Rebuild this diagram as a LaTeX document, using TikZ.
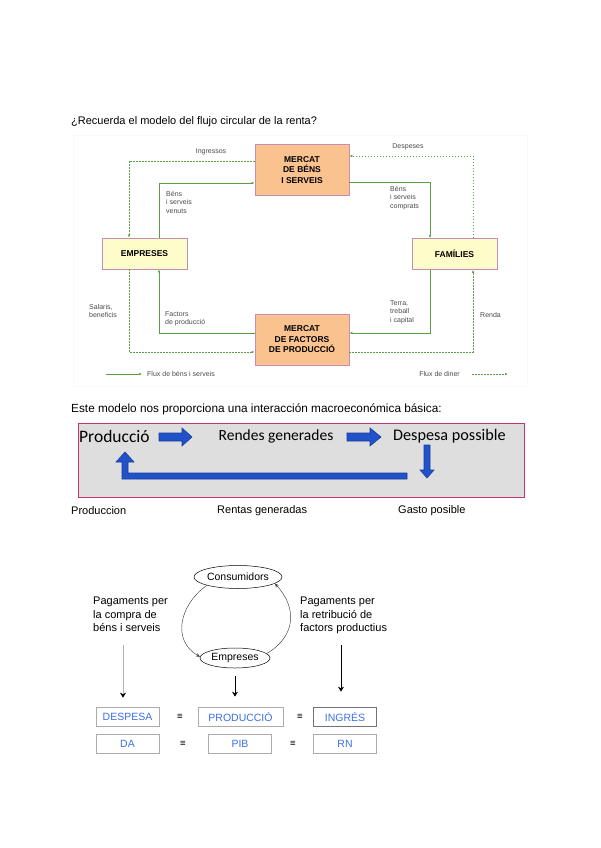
\documentclass[tikz,border=0pt]{standalone}
\usepackage{fontspec}
\setmainfont{Liberation Sans}
\newfontfamily\calibri{Carlito}
\usetikzlibrary{arrows.meta,shapes.geometric,positioning}
\definecolor{boxedge}{HTML}{C68DB5}
\definecolor{mercatfill}{HTML}{F9C28F}
\definecolor{empfill}{HTML}{FEFCC8}
\definecolor{flowgreen}{HTML}{5A9E46}
\definecolor{labelgray}{HTML}{4A4A4A}
\definecolor{framered}{HTML}{C8336E}
\definecolor{panelgray}{HTML}{DEDEDE}
\definecolor{arrowblue}{HTML}{2152C9}
\definecolor{arrowedge}{HTML}{173E9A}
\definecolor{valblue}{HTML}{3A6FE6}

\tikzset{
  mbox/.style={draw=boxedge,line width=0.8pt,fill=mercatfill,minimum width=94pt,
    minimum height=51pt,align=center,inner sep=0pt,
    font=\fontsize{8.5}{10.5}\selectfont\bfseries},
  ybox/.style={mbox,fill=empfill,minimum width=85pt,minimum height=31pt},
  goods/.style={draw=flowgreen,line width=0.6pt,-{Latex[length=3pt,width=2.5pt]}},
  money/.style={goods,dash pattern=on 1.5pt off 1.5pt},
  lbl/.style={text=labelgray,align=left,inner sep=0pt,font=\fontsize{7}{8.5}\selectfont},
  legendtxt/.style={lbl,font=\fontsize{7}{8}\selectfont},
  txt/.style={inner sep=0pt,align=left,font=\fontsize{11}{13.5}\selectfont},
  bigarrow/.style={fill=arrowblue,draw=arrowedge,line width=0.6pt},
  ell/.style={ellipse,draw,line width=0.5pt,inner sep=0pt,font=\fontsize{10.5}{12}\selectfont},
  loopline/.style={draw=black!75,line width=0.45pt,-{Stealth[length=4pt,width=3.5pt]}},
  vbox/.style={draw=gray!65,line width=0.7pt,minimum width=63pt,minimum height=19pt,
    inner sep=0pt,text=valblue,font=\fontsize{10.5}{12}\selectfont},
  eqsign/.style={inner sep=0pt,font=\fontsize{9.5}{10}\selectfont},
}

\begin{document}
\begin{tikzpicture}[x=1pt,y=-1pt]
\useasboundingbox (0,0) rectangle (600,848);

% circular flow of income
\node[txt,anchor=west] (titol) at (71,122) {¿Recuerda el modelo del flujo circular de la renta?};
\draw[gray!5] (73,135) rectangle (527,386);

\node[mbox] (mbs) at (302,170) {MERCAT\\DE BÉNS\\I SERVEIS};
\node[ybox] (emp) at (144.5,253.5) {EMPRESES};
\node[ybox] (fam) at (454.5,254) {FAMÍLIES};
\node[mbox] (mfp) at (302,339.5) {MERCAT\\DE FACTORS\\DE PRODUCCIÓ};

\coordinate (c1) at (129,161);
\coordinate (c2) at (159,183);
\coordinate (c3) at (430,182);
\coordinate (c4) at (473,156);
\coordinate (c5) at (430,333);
\coordinate (c6) at (159,333);
\coordinate (c7) at (129,352);
\coordinate (c8) at (473,352);

\draw[money] (mbs.west |- c1) -- (c1) -- (c1 |- emp.north);
\draw[goods] (c2 |- emp.north) -- (c2) -- (mbs.west |- c2);
\draw[goods] (mbs.east |- c3) -- (c3) -- (c3 |- fam.north);
\draw[money] (c4 |- fam.north) -- (c4) -- (mbs.east |- c4);
\draw[goods] (c5 |- fam.south) -- (c5) -- (mfp.east |- c5);
\draw[goods] (mfp.west |- c6) -- (c6) -- (c6 |- emp.south);
\draw[money] (c7 |- emp.south) -- (c7) -- (mfp.west |- c7);
\draw[money] (mfp.east |- c8) -- (c8) -- (c8 |- fam.south);

\node[lbl] (ingressos) at (211,152) {Ingressos};
\node[lbl] (despeses) at (408,147) {Despeses};
\node[lbl,anchor=north west] (venuts) at (166,191) {Béns\\i serveis\\venuts};
\node[lbl,anchor=north west] (comprats) at (390,186) {Béns\\i serveis\\comprats};
\node[lbl,anchor=north west] (terra) at (390,300) {Terra,\\treball\\i capital};
\node[lbl,anchor=north west] (factors) at (165,311) {Factors\\de producció};
\node[lbl,anchor=north west] (salaris) at (89,304) {Salaris,\\beneficis};
\node[lbl,anchor=west] (renda) at (480,315) {Renda};

% legend
\coordinate (g1) at (106,374);
\coordinate (g2) at (142,374);
\draw[goods] (g1) -- (g2);
\node[legendtxt,anchor=west] (fluxb) at (147,374) {Flux de béns i serveis};
\node[legendtxt,anchor=east] (fluxd) at (460,374) {Flux de diner};
\coordinate (d1) at (472,374);
\coordinate (d2) at (508,374);
\draw[money] (d1) -- (d2);

% basic interaction
\node[txt,anchor=west,font=\fontsize{11.8}{14}\selectfont] (este) at (71,409) {Este modelo nos proporciona una interacción macroeconómica básica:};
\draw[draw=framered,fill=panelgray,line width=1pt] (78,423) rectangle (524,497);
\node[inner sep=0pt,anchor=west,font=\calibri\fontsize{17.5}{20}\selectfont] (prod) at (79,436) {Producció};
\node[inner sep=0pt,font=\calibri\fontsize{15.5}{18}\selectfont] (rend) at (276,436) {Rendes generades};
\node[inner sep=0pt,anchor=west,font=\calibri\fontsize{16.2}{19}\selectfont] (desp) at (393,436) {Despesa possible};

\draw[bigarrow] (159,433) -- (182,433) -- (182,428) -- (192,437) -- (182,446) -- (182,441) -- (159,441) -- cycle;
\draw[bigarrow] (347,433) -- (370,433) -- (370,428) -- (381,437) -- (370,446) -- (370,441) -- (347,441) -- cycle;
\draw[bigarrow] (424,445) -- (430,445) -- (430,470) -- (434,470) -- (427,478) -- (420,470) -- (424,470) -- cycle;
\draw[bigarrow] (407,473) -- (128,473) -- (128,462) -- (134,462) -- (125,452) -- (116,462) -- (122,462) -- (122,479) -- (407,479) -- cycle;

\node[txt,anchor=west] (produccion) at (71,511) {Produccion};
\node[txt,anchor=west] (rentas) at (217,511) {Rentas generadas};
\node[txt,anchor=west] (gasto) at (398,511) {Gasto posible};

% consumers and firms
\node[ell,minimum width=88pt,minimum height=23pt] (cons) at (238,577) {Consumidors};
\node[ell,minimum width=70pt,minimum height=20pt] (empr) at (235,658) {Empreses};
\draw[loopline] (cons.195) .. controls +(-28,20) and +(-28,-16) .. (empr.178);
\draw[loopline] (empr.8) .. controls +(30,-18) and +(22,24) .. (cons.350);

\node[txt,anchor=north west] (compra) at (93,597) {Pagaments per\\la compra de\\béns i serveis};
\node[txt,anchor=north west] (retrib) at (300,597) {Pagaments per\\la retribució de\\factors productius};

\node[vbox] (bdespesa) at (127.5,716.5) {DESPESA};
\node[vbox,minimum width=85pt] (bproduccio) at (240.5,716.5) {PRODUCCIÓ};
\node[vbox,draw=gray!90!black] (bingres) at (345,716.5) {INGRÉS};
\node[vbox] (bda) at (127.5,744) {DA};
\node[vbox] (bpib) at (240,744) {PIB};
\node[vbox] (brn) at (345,744) {RN};

\node[eqsign] (eq1) at (180,717) {≡};
\node[eqsign] (eq2) at (300,717) {≡};
\node[eqsign] (eq3) at (183,744) {≡};
\node[eqsign] (eq4) at (293,744) {≡};

\coordinate (a1) at (123,645);
\coordinate (a3) at (341,645);
\draw[draw=gray!60,line width=0.6pt,-{Stealth[length=5pt,width=6pt,black]},shorten >=9pt] (a1) -- (a1 |- bdespesa.north);
\draw[line width=1pt,-{Stealth[length=5pt,width=6pt]},shorten <=8pt,shorten >=10pt] (empr.south) -- (empr.south |- bproduccio.north);
\draw[line width=1pt,-{Stealth[length=5pt,width=6pt]},shorten >=15pt] (a3) -- (a3 |- bingres.north);
\end{tikzpicture}
\end{document}
